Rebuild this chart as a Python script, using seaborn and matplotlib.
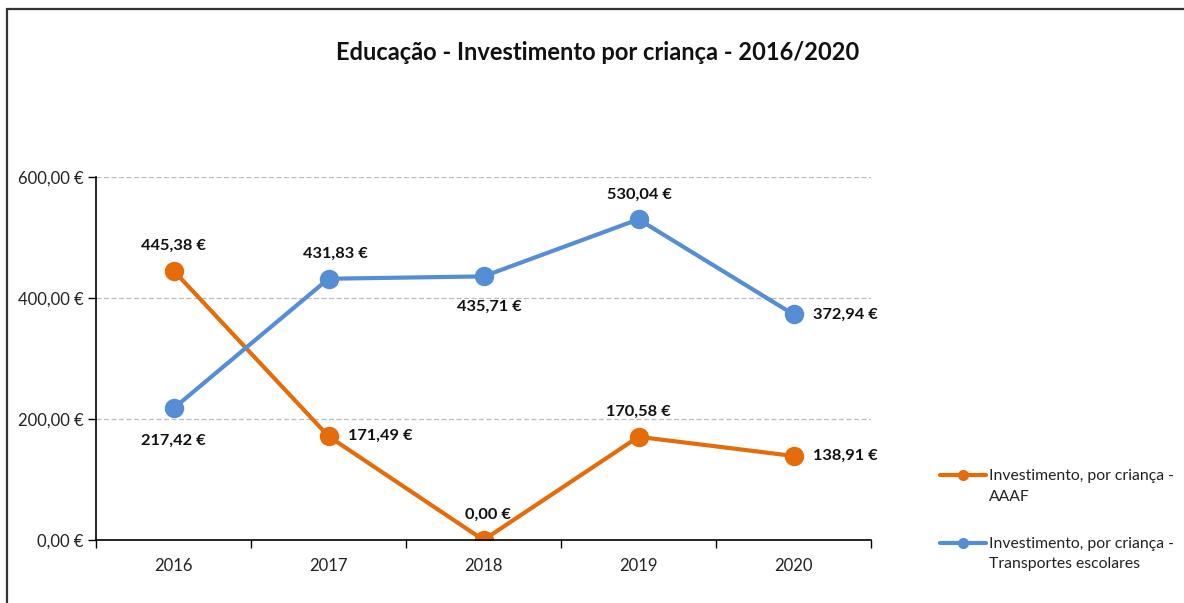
import matplotlib
matplotlib.use("Agg")
import matplotlib.pyplot as plt
import seaborn as sns
import pandas as pd
from matplotlib.patches import Rectangle
from matplotlib.lines import Line2D
from matplotlib.transforms import Affine2D
from matplotlib.ticker import FixedLocator, FuncFormatter

years = ["2016", "2017", "2018", "2019", "2020"]
aaaf = [445.38, 171.49, 0.00, 170.58, 138.91]
transportes = [217.42, 431.83, 435.71, 530.04, 372.94]
series_names = ["Investimento, por criança - AAAF",
                "Investimento, por criança - Transportes escolares"]
legend_labels = ["Investimento, por criança -\nAAAF",
                 "Investimento, por criança -\nTransportes escolares"]
title = "Educação - Investimento por criança - 2016/2020"

colors = ["#E46C0A", "#558ED5"]

df = pd.DataFrame({
    "Ano": years * 2,
    "Valor": aaaf + transportes,
    "Série": [series_names[0]] * 5 + [series_names[1]] * 5,
})

sns.set_theme(style="white")
plt.rcParams["font.family"] = ["Lato", "DejaVu Sans"]

fig = plt.figure(figsize=(11.84, 6.03), dpi=100)
ax = fig.add_axes([96 / 1184, 63 / 603, 775 / 1184, 363 / 603])

sns.lineplot(data=df, x="Ano", y="Valor", hue="Série", palette=colors,
             marker="o", markersize=14, markeredgewidth=0, linewidth=3,
             ax=ax, legend=False, sort=False)

ax.set_xlim(-0.5, 4.5)
ax.set_ylim(0, 600)
ax.set_xlabel("")
ax.set_ylabel("")

def eur(v, pos=None):
    return f"{v:,.2f}".replace(",", "X").replace(".", ",").replace("X", ".") + " €"

ax.yaxis.set_major_locator(FixedLocator([0, 200, 400, 600]))
ax.yaxis.set_major_formatter(FuncFormatter(eur))
ax.xaxis.set_major_locator(FixedLocator([-0.5, 0.5, 1.5, 2.5, 3.5, 4.5]))
ax.xaxis.set_major_formatter(FuncFormatter(lambda v, p: ""))
ax.xaxis.set_minor_locator(FixedLocator(range(len(years))))
ax.xaxis.set_minor_formatter(FuncFormatter(lambda v, p: years[int(round(v))]))
ax.tick_params(axis="x", which="major", direction="out", length=6, width=1, color="black", bottom=True)
ax.tick_params(axis="x", which="minor", length=0, pad=13, labelsize=12, labelcolor="#222222")
ax.tick_params(axis="y", direction="out", length=6, width=1, color="black", left=True,
               labelsize=12, labelcolor="#222222", pad=3)

for s in ["top", "right"]:
    ax.spines[s].set_visible(False)
for s in ["left", "bottom"]:
    ax.spines[s].set_color("black")
    ax.spines[s].set_linewidth(1.2)

ax.yaxis.grid(True, color="#BBBBBB", linestyle=(0, (4, 2)), linewidth=0.9)
ax.set_axisbelow(True)

# data labels: (dx, dy) in points; dx > 20 means label placed to the right
off_aaaf = [(0, 18), (28, 0), (3, 18), (0, 18), (28, 0)]
off_trans = [(0, -23), (5, 18), (4, -22), (1, 18), (28, 0)]
for vals, offs in [(aaaf, off_aaaf), (transportes, off_trans)]:
    for i, (v, o) in enumerate(zip(vals, offs)):
        ha = "left" if o[0] > 20 else "center"
        dx = o[0] - 14 if o[0] > 20 else o[0]
        ax.annotate(eur(v), (i, v), xytext=(dx, o[1]), textcoords="offset points",
                    ha=ha, va="center", fontsize=11.8, fontweight="bold", color="#111111",
                    annotation_clip=False)

fig.text(598 / 1184, 1 - 53 / 603, title, ha="center", va="center",
         fontsize=17, fontweight="bold", color="#111111")

handles = [Line2D([], [], color=c, lw=3, marker="o", markersize=7) for c in colors]
leg = fig.legend(handles, legend_labels, loc="upper left",
                 bbox_to_anchor=(940 / 1184, 1 - 469 / 603), frameon=False,
                 fontsize=11.3, handlelength=2.9, handletextpad=0.25, labelspacing=2.1,
                 borderaxespad=0, borderpad=0)
for t in leg.get_texts():
    t.set_color("#222222")
    t.set_linespacing(1.6)
for h in leg.legend_handles:
    h.set_transform(h.get_transform() + Affine2D().translate(0, 11))

fig.add_artist(Rectangle((7 / 1184, -0.1), 1.2, 1.1 - 9 / 603, transform=fig.transFigure,
                         fill=False, edgecolor="#333333", linewidth=1.6))

fig.savefig("out.png", dpi=100)
